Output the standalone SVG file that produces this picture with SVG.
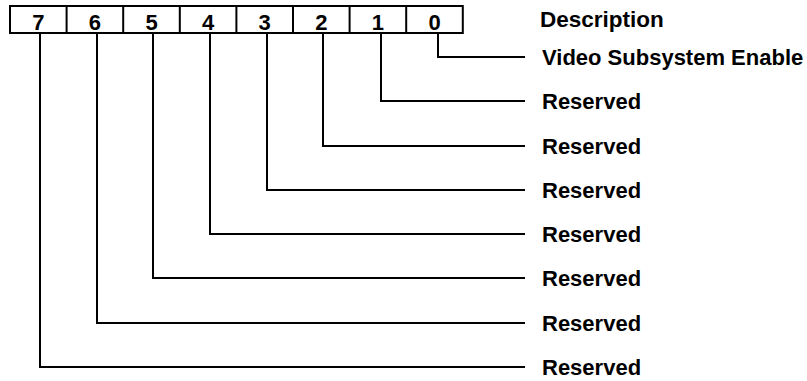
<svg xmlns="http://www.w3.org/2000/svg" width="807" height="381" viewBox="0 0 807 381">
<style>
.bx{fill:#fff;stroke:#000;stroke-width:2}
.dv{stroke:#000;stroke-width:2}
.num{font-family:"Liberation Sans",Arial,sans-serif;font-weight:bold;font-size:22px;text-anchor:middle;fill:#000}
.lbl{font-family:"Liberation Sans",Arial,sans-serif;font-weight:bold;font-size:22px;fill:#000}
.hd{font-family:"Liberation Sans",Arial,sans-serif;font-weight:bold;font-size:22.5px;fill:#000}
.cn{fill:none;stroke:#000;stroke-width:2}
</style>
<rect width="807" height="381" fill="#fff"/>
<g id="register">
<rect class="bx" x="10" y="6" width="452.8" height="27"/>
<line class="dv" x1="66.6" y1="6" x2="66.6" y2="33"/>
<line class="dv" x1="123.2" y1="6" x2="123.2" y2="33"/>
<line class="dv" x1="179.8" y1="6" x2="179.8" y2="33"/>
<line class="dv" x1="236.4" y1="6" x2="236.4" y2="33"/>
<line class="dv" x1="293" y1="6" x2="293" y2="33"/>
<line class="dv" x1="349.6" y1="6" x2="349.6" y2="33"/>
<line class="dv" x1="406.2" y1="6" x2="406.2" y2="33"/>
<text class="num" x="38.3" y="29.5">7</text>
<text class="num" x="94.9" y="29.5">6</text>
<text class="num" x="151.5" y="29.5">5</text>
<text class="num" x="208.1" y="29.5">4</text>
<text class="num" x="264.7" y="29.5">3</text>
<text class="num" x="321.3" y="29.5">2</text>
<text class="num" x="377.9" y="29.5">1</text>
<text class="num" x="434.5" y="29.5">0</text>
</g>
<g id="header"><text class="hd" x="540" y="27">Description</text></g>
<g id="connectors">
<polyline class="cn" points="438,33 438,57 525,57"/>
<polyline class="cn" points="381,33 381,101 525,101"/>
<polyline class="cn" points="323,33 323,146 525,146"/>
<polyline class="cn" points="267,33 267,190 525,190"/>
<polyline class="cn" points="210,33 210,234 525,234"/>
<polyline class="cn" points="153,33 153,278 525,278"/>
<polyline class="cn" points="97,33 97,323 525,323"/>
<polyline class="cn" points="40,33 40,367 525,367"/>
</g>
<g id="bit0"><text class="lbl" x="542" y="65">Video Subsystem Enable</text></g>
<g id="bit1"><text class="lbl" x="542" y="109">Reserved</text></g>
<g id="bit2"><text class="lbl" x="542" y="154">Reserved</text></g>
<g id="bit3"><text class="lbl" x="542" y="198">Reserved</text></g>
<g id="bit4"><text class="lbl" x="542" y="242">Reserved</text></g>
<g id="bit5"><text class="lbl" x="542" y="286">Reserved</text></g>
<g id="bit6"><text class="lbl" x="542" y="331">Reserved</text></g>
<g id="bit7"><text class="lbl" x="542" y="375">Reserved</text></g>
</svg>
